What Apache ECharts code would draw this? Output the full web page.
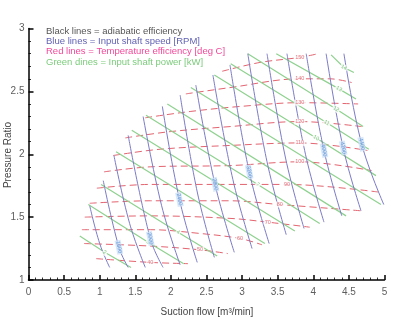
<!DOCTYPE html>
<html>
<head>
<meta charset="utf-8">
<script src="https://cdn.jsdelivr.net/npm/echarts@6/dist/echarts.min.js"></script>
<style>
html, body { margin: 0; padding: 0; background: #fff; }
#chart { width: 408px; height: 326px; }
</style>
</head>
<body>
<div id="chart"></div>
<script>
// Axis ticks
const xTicks = [0, 0.5, 1, 1.5, 2, 2.5, 3, 3.5, 4, 4.5, 5];
const yTicks = [1, 1.5, 2, 2.5, 3];

// Input shaft speed lines [RPM], surge end first, choke end last
const speedValues = [1400, 1600, 1800, 2000, 2200, 2400, 2600, 2800, 3000, 3200, 3400, 3600, 3800, 4000, 4200, 4400];
const speedLines = [
  [[0.86, 1.59], [1.00, 1.29], [1.14, 1.10]],
  [[1.05, 1.79], [1.27, 1.26], [1.40, 1.10]],
  [[1.20, 1.99], [1.42, 1.45], [1.64, 1.10]],
  [[1.40, 2.15], [1.71, 1.33], [1.89, 1.10]],
  [[1.61, 2.30], [1.87, 1.59], [2.13, 1.12]],
  [[1.88, 2.38], [2.12, 1.64], [2.37, 1.14]],
  [[2.13, 2.47], [2.37, 1.70], [2.61, 1.18]],
  [[2.35, 2.55], [2.62, 1.76], [2.89, 1.22]],
  [[2.59, 2.63], [2.87, 1.80], [3.14, 1.25]],
  [[2.83, 2.71], [3.10, 1.86], [3.38, 1.29]],
  [[3.08, 2.80], [3.35, 1.94], [3.62, 1.36]],
  [[3.35, 2.80], [3.61, 1.97], [3.87, 1.41]],
  [[3.63, 2.80], [3.89, 2.00], [4.15, 1.46]],
  [[3.90, 2.80], [4.15, 2.03], [4.40, 1.51]],
  [[4.18, 2.80], [4.42, 2.05], [4.67, 1.55]],
  [[4.43, 2.80], [4.68, 2.08], [4.99, 1.60]]
];
// vertex carrying the speed tag (null = untagged)
const speedTagAt = [null, 1, null, 1, null, 1, null, 1, null, 1, null, null, null, 1, 1, 1];

// Input shaft power lines [kW]
const powerValues = [2, 3, 4, 5, 6, 7, 8, 9, 10, 11, 12, 13, 14];
const powerLines = [
  [[0.72, 1.35], [1.07, 1.22], [1.44, 1.10]],
  [[0.84, 1.60], [1.68, 1.30], [2.18, 1.13]],
  [[1.02, 1.76], [2.10, 1.38], [2.65, 1.19]],
  [[1.23, 2.02], [3.32, 1.29]],
  [[1.45, 2.19], [3.74, 1.39]],
  [[1.65, 2.31], [3.22, 1.76], [4.09, 1.45]],
  [[1.95, 2.40], [4.46, 1.51]],
  [[2.28, 2.53], [4.95, 1.60]],
  [[2.61, 2.63], [4.04, 2.13], [4.88, 1.83]],
  [[2.84, 2.72], [4.19, 2.25], [4.78, 2.04]],
  [[3.08, 2.80], [4.32, 2.36], [4.70, 2.22]],
  [[3.48, 2.80], [4.36, 2.52], [4.60, 2.44]],
  [[4.25, 2.79], [4.43, 2.69], [4.57, 2.65]]
];
const powerTagAt = [1, 1, 1, null, null, 1, null, null, 1, 1, 1, 1, 1];

// Temperature lines [deg C]
const tempValues = [150, 140, 130, 120, 110, 100, 90, 80, 70, 60, 50, 40];
const tempLines = [
  [[2.72, 2.66], [3.25, 2.73], [3.81, 2.77], [4.07, 2.80]],
  [[2.21, 2.48], [2.83, 2.53], [3.81, 2.60], [4.23, 2.60], [4.54, 2.57]],
  [[1.64, 2.29], [2.27, 2.34], [2.97, 2.38], [3.81, 2.41], [4.63, 2.40]],
  [[1.36, 2.13], [1.99, 2.18], [2.83, 2.22], [3.81, 2.26], [4.68, 2.22]],
  [[1.19, 1.99], [1.85, 2.04], [2.83, 2.07], [3.81, 2.09], [4.76, 2.03]],
  [[1.06, 1.86], [1.71, 1.90], [2.83, 1.91], [3.81, 1.94], [4.82, 1.87]],
  [[0.96, 1.73], [1.71, 1.76], [2.83, 1.76], [3.63, 1.76], [4.91, 1.70]],
  [[0.86, 1.61], [1.71, 1.63], [2.83, 1.63], [3.53, 1.60], [4.68, 1.55]],
  [[0.79, 1.50], [1.71, 1.51], [2.83, 1.49], [3.36, 1.46], [3.95, 1.42]],
  [[0.75, 1.40], [1.71, 1.40], [2.41, 1.37], [2.97, 1.33], [3.28, 1.28]],
  [[0.78, 1.29], [1.71, 1.27], [2.41, 1.24], [2.80, 1.21]],
  [[0.95, 1.17], [1.71, 1.14], [2.24, 1.13]]
];
const tempTagAt = [2, 2, 3, 3, 3, 3, 3, 3, 3, 3, 2, 1];

const legendLines = [
  { text: 'Black lines = adiabatic efficiency', color: '#555555' },
  { text: 'Blue lines = Input shaft speed [RPM]', color: '#6262b4' },
  { text: 'Red lines = Temperature efficiency [deg C]', color: '#f2489a' },
  { text: 'Green dines = Input shaft power [kW]', color: '#7ccb7c' }
];

const COL_SPEED = '#7b7bc9';
const COL_POWER = '#8fd18f';
const COL_TEMP = '#e3646f';

const series = [];

tempLines.forEach((pts, i) => {
  series.push({
    type: 'line', name: 'T' + tempValues[i], data: pts, showSymbol: false, silent: true,
    smooth: 0.35, z: 2,
    lineStyle: { color: COL_TEMP, width: 1, type: [7, 4] }
  });
});
powerLines.forEach((pts, i) => {
  series.push({
    type: 'line', name: 'P' + powerValues[i], data: pts, showSymbol: false, silent: true,
    z: 3, lineStyle: { color: COL_POWER, width: 1.2 }
  });
});
speedLines.forEach((pts, i) => {
  series.push({
    type: 'line', name: 'N' + speedValues[i], data: pts, showSymbol: false, silent: true,
    smooth: 0.4, z: 4, lineStyle: { color: COL_SPEED, width: 1 }
  });
});

function tagData(lines, values, at) {
  const out = [];
  lines.forEach((pts, i) => {
    if (at[i] !== null) out.push([pts[at[i]][0], pts[at[i]][1], String(values[i])]);
  });
  return out;
}

function tagSeries(data, color, rotate, bg, z) {
  return {
    type: 'scatter', data: data, symbol: 'circle', symbolSize: 1, silent: true, z: z,
    itemStyle: { color: 'rgba(0,0,0,0)' },
    labelLayout: { hideOverlap: false },
    label: {
      show: true, position: 'inside', rotate: rotate,
      formatter: p => p.data[2],
      color: color, fontSize: 5.5, fontFamily: 'Liberation Sans',
      backgroundColor: bg, padding: [0, 1]
    }
  };
}

series.push(tagSeries(tagData(tempLines, tempValues, tempTagAt), '#d9505e', 0, '#ffffff', 6));
series.push(tagSeries(tagData(powerLines, powerValues, powerTagAt), '#5fb85f', -32, '#ffffff', 6));
series.push(tagSeries(tagData(speedLines, speedValues, speedTagAt), '#3f7fd0', -79, '#cfe2f6', 7));

const axisCommon = {
  type: 'value',
  splitLine: { show: false },
  axisLine: { show: true, onZero: false, lineStyle: { color: '#000', width: 1.5 } },
  axisTick: { show: true, inside: true, length: 5, lineStyle: { color: '#000', width: 1.5 } },
  minorTick: { show: true, splitNumber: 5, length: 2.5, lineStyle: { color: '#000', width: 0.8 } },
  axisLabel: { color: '#5e5e5e', fontSize: 10, fontFamily: 'Liberation Sans' }
};

const graphics = legendLines.map((l, i) => ({
  type: 'text', x: 46, y: 31 + i * 10.4, z: 10,
  style: { text: l.text, fill: l.color, fontSize: 9.5, fontFamily: 'Liberation Sans', verticalAlign: 'middle' }
}));
graphics.push({
  type: 'text', x: 207, y: 312, z: 10,
  style: { text: 'Suction flow [m³/min]', fill: '#444', fontSize: 10, fontFamily: 'Liberation Sans', align: 'center', verticalAlign: 'middle' }
});
graphics.push({
  type: 'text', x: 8, y: 155, rotation: Math.PI / 2, z: 10,
  style: { text: 'Pressure Ratio', fill: '#444', fontSize: 10, fontFamily: 'Liberation Sans', align: 'center', verticalAlign: 'middle' }
});

const chart = echarts.init(document.getElementById('chart'), null, { renderer: 'canvas' });
chart.setOption({
  animation: false,
  backgroundColor: '#ffffff',
  grid: { left: 28.5, right: 23.5, top: 28.5, bottom: 46, containLabel: false },
  xAxis: Object.assign({}, axisCommon, {
    min: xTicks[0], max: xTicks[xTicks.length - 1], interval: xTicks[1] - xTicks[0],
    axisLabel: Object.assign({}, axisCommon.axisLabel, { margin: 7 })
  }),
  yAxis: Object.assign({}, axisCommon, {
    min: yTicks[0], max: yTicks[yTicks.length - 1], interval: yTicks[1] - yTicks[0],
    axisLabel: Object.assign({}, axisCommon.axisLabel, { margin: 4 })
  }),
  graphic: graphics,
  series: series
});
</script>
</body>
</html>
